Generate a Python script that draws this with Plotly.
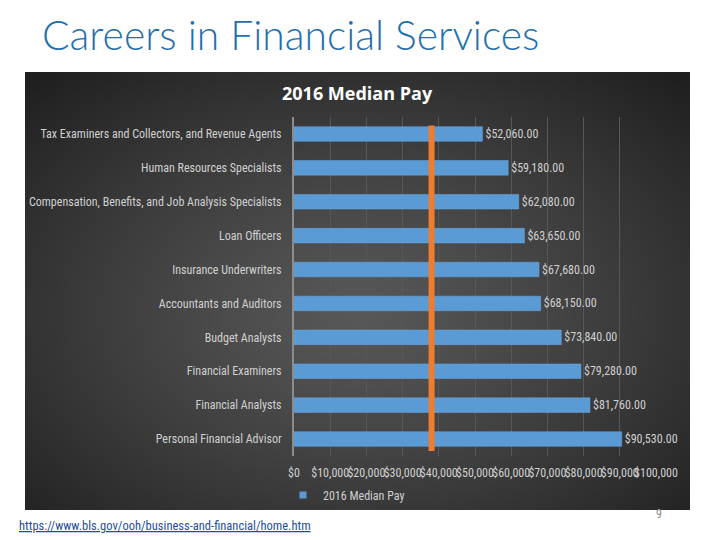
import base64, struct, zlib
import numpy as np
import plotly.graph_objects as go

# ---------------- data ----------------
occupations = [
    "Tax Examiners and Collectors, and Revenue Agents",
    "Human Resources Specialists",
    "Compensation, Benefits, and Job Analysis Specialists",
    "Loan Officers",
    "Insurance Underwriters",
    "Accountants and Auditors",
    "Budget Analysts",
    "Financial Examiners",
    "Financial Analysts",
    "Personal Financial Advisor",
]
median_pay = [52060, 59180, 62080, 63650, 67680, 68150, 73840, 79280, 81760, 90530]
reference_pay = 38000  # orange marker line
x_ticks = [0, 10000, 20000, 30000, 40000, 50000, 60000, 70000, 80000, 90000, 100000]
x_tick_labels = ["$0", "$10,000", "$20,000", "$30,000", "$40,000", "$50,000",
                 "$60,000", "$70,000", "$80,000", "$90,000", "$100,000"]
series_name = "2016 Median Pay"
slide_title = "Careers in Financial Services"
source_url = "https://www.bls.gov/ooh/business-and-financial/home.htm"
page_number = "9"

# ---------------- geometry helpers ----------------
OFF = 8                      # page body margin
W, H = 720 - OFF, 540 - OFF
PL, PR, PT, PB = 294 - OFF, 656 - OFF, 117 - OFF, 456 - OFF  # plot area in figure pixels


def px(xp):
    return (xp - OFF - PL) / (PR - PL)


def py(yp):
    return (PB - (yp - OFF)) / (PB - PT)


# ---------------- radial gradient background (PNG) ----------------
def make_png(arr):
    h, w, _ = arr.shape
    raw = b"".join(b"\x00" + arr[i].tobytes() for i in range(h))

    def chunk(tag, data):
        c = struct.pack(">I", len(data)) + tag + data
        return c + struct.pack(">I", zlib.crc32(tag + data) & 0xFFFFFFFF)

    return (b"\x89PNG\r\n\x1a\n"
            + chunk(b"IHDR", struct.pack(">IIBBBBB", w, h, 8, 2, 0, 0, 0))
            + chunk(b"IDAT", zlib.compress(raw, 9))
            + chunk(b"IEND", b""))


gw, gh = 240, 160
xx, yy = np.meshgrid(np.linspace(0, 1, gw), np.linspace(0, 1, gh))
r = np.sqrt(((xx - 0.5) / 0.72) ** 2 + ((yy - 0.55) / 0.75) ** 2)
r = np.clip(r, 0, 1)
val = (0x58 - (0x58 - 0x1f) * r ** 1.2).astype(np.uint8)
img = np.stack([val, val, val], axis=-1)
bg_uri = "data:image/png;base64," + base64.b64encode(make_png(img)).decode()

# ---------------- figure ----------------
text_font = "Liberation Sans Narrow, Roboto Condensed, Roboto, sans-serif"
light = "#d0d0d0"
bar_color = "#5b9bd5"

fig = go.Figure()
fig.add_trace(go.Bar(
    y=occupations,
    x=median_pay,
    orientation="h",
    name=series_name,
    showlegend=False,
    marker=dict(color=bar_color, line=dict(color="#6aa8e0", width=0.5)),
    width=0.43,
    text=[f"${v:,.2f}" for v in median_pay],
    textposition="outside",
    textfont=dict(color=light, size=12, family=text_font),
    cliponaxis=False,
))
# legend entry (small square like the original)
fig.add_trace(go.Scatter(
    x=[None], y=[None], mode="markers", name=series_name,
    marker=dict(symbol="square", size=7, color=bar_color),
    showlegend=True,
))

fig.add_shape(type="line", xref="x", yref="y",
              x0=reference_pay, x1=reference_pay, y0=-0.25, y1=len(occupations) - 1 + 0.35,
              line=dict(color="#ed7d31", width=6), layer="above")

fig.add_layout_image(dict(
    source=bg_uri, xref="paper", yref="paper",
    x=px(25), y=py(72), sizex=px(690) - px(25), sizey=py(72) - py(510),
    xanchor="left", yanchor="top", sizing="stretch", layer="below",
))

fig.update_layout(
    width=W, height=H,
    margin=dict(l=PL, r=W - PR, t=PT, b=H - PB, autoexpand=False),
    paper_bgcolor="white",
    plot_bgcolor="rgba(0,0,0,0)",
    showlegend=True,
    legend=dict(orientation="h", x=px(283), xanchor="left", y=py(495), yanchor="middle",
                font=dict(color=light, size=12, family=text_font),
                bgcolor="rgba(0,0,0,0)", itemwidth=30),
    xaxis=dict(range=[0, 100000], tickvals=x_ticks, ticktext=x_tick_labels, tickangle=0,
               showgrid=True, gridcolor="#575757", gridwidth=1, zeroline=False,
               showline=False, ticks="outside", ticklen=6, tickcolor="rgba(0,0,0,0)",
               tickfont=dict(color=light, size=12, family=text_font), fixedrange=True),
    yaxis=dict(autorange="reversed", showgrid=False, showline=True, linecolor="#8c8c8c",
               linewidth=2, ticks="outside", ticklen=8, tickcolor="rgba(0,0,0,0)",
               tickfont=dict(color=light, size=12, family=text_font), fixedrange=True),
    annotations=[
        dict(text="<b>" + series_name + "</b>", xref="paper", yref="paper",
             x=px(357), y=py(93), xanchor="center", yanchor="middle", showarrow=False,
             font=dict(color="white", size=18, family="Open Sans, sans-serif")),
        dict(text=slide_title, xref="paper", yref="paper",
             x=px(40), y=py(34), xanchor="left", yanchor="middle", showarrow=False,
             font=dict(color="#1f6fae", size=40.8, family="Lato, sans-serif", weight=300)),
        dict(text="<u>" + source_url + "</u>", xref="paper", yref="paper",
             x=px(17), y=py(525), xanchor="left", yanchor="middle", showarrow=False,
             font=dict(color="#1f4e9c", size=12.5, family=text_font)),
        dict(text=page_number, xref="paper", yref="paper",
             x=px(659), y=py(514), xanchor="center", yanchor="middle", showarrow=False,
             font=dict(color="#8c8c8c", size=12, family=text_font)),
    ],
)

fig.write_html("out.html")
